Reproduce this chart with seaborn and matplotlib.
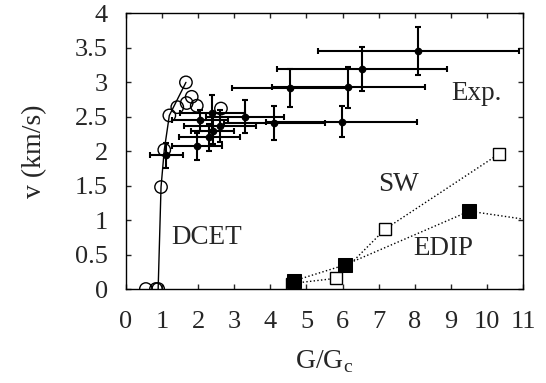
import matplotlib
matplotlib.use("Agg")
import matplotlib.pyplot as plt
import pandas as pd
import seaborn as sns

# DCET (open circles); the first points are joined by a solid line
dcet_x = [0.55, 0.83, 0.89, 0.97, 1.06, 1.20, 1.66, 1.42, 1.68, 1.82, 1.96, 2.63]
dcet_y = [0.0, 0.0, 0.0, 1.48, 2.02, 2.52, 3.00, 2.64, 2.70, 2.79, 2.66, 2.62]
dcet_curve_x = [0.89, 0.97, 1.06, 1.20, 1.66]
dcet_curve_y = [0.0, 1.48, 2.02, 2.52, 3.00]

# experiment with error bars
exp_x = [1.12, 1.96, 2.31, 2.05, 2.39, 2.60, 2.40, 3.30, 4.11, 5.97, 4.55, 6.16, 6.53, 8.10]
exp_y = [1.94, 2.07, 2.20, 2.45, 2.56, 2.37, 2.30, 2.50, 2.41, 2.43, 2.92, 2.93, 3.20, 3.46]
exp_xerr = [0.46, 0.69, 0.85, 0.78, 0.90, 1.00, 0.60, 1.09, 1.40, 2.08, 1.62, 2.11, 2.35, 2.79]
exp_yerr = [0.18, 0.19, 0.19, 0.15, 0.25, 0.23, 0.20, 0.24, 0.24, 0.23, 0.28, 0.30, 0.32, 0.35]

# Stillinger-Weber and EDIP simulations
sw_x = [4.59, 5.82, 7.18, 10.33]
sw_y = [0.08, 0.155, 0.87, 1.96]
edip_x = [4.66, 6.07, 9.51, 12.5]
edip_y = [0.12, 0.35, 1.13, 0.90]

x_ticks = list(range(0, 12))
y_ticks = [0, 0.5, 1, 1.5, 2, 2.5, 3, 3.5, 4]
y_tick_labels = ["0", "0.5", "1", "1.5", "2", "2.5", "3", "3.5", "4"]

sns.set_theme(style="ticks")
plt.rcParams["font.family"] = ["Liberation Serif", "DejaVu Serif"]
plt.rcParams["mathtext.fontset"] = "custom"
plt.rcParams["mathtext.rm"] = "Liberation Serif"
plt.rcParams["xtick.direction"] = "in"
plt.rcParams["ytick.direction"] = "in"

fig = plt.figure(figsize=(5.46, 3.83), dpi=100)
ax = fig.add_axes([0.2308, 0.2454, 0.7272, 0.7194])

# DCET
sns.lineplot(x=dcet_curve_x, y=dcet_curve_y, ax=ax, color="black", lw=1.0, sort=False)
sns.scatterplot(x=dcet_x, y=dcet_y, ax=ax, marker="o", s=80, facecolor="none",
                edgecolor="black", linewidth=1.0, zorder=3)

# Exp.
ax.errorbar(exp_x, exp_y, xerr=exp_xerr, yerr=exp_yerr, fmt="o", color="black",
            ms=4.5, elinewidth=1.5, capsize=2, capthick=1.5, zorder=4)

# SW and EDIP
sw = pd.DataFrame({"x": sw_x, "y": sw_y})
edip = pd.DataFrame({"x": edip_x, "y": edip_y})
sns.lineplot(data=sw, x="x", y="y", ax=ax, color="black", lw=1.0, ls=":", sort=False,
             marker="s", markersize=8.4, markerfacecolor="white", markeredgecolor="black",
             markeredgewidth=1.0)
sns.lineplot(data=edip, x="x", y="y", ax=ax, color="black", lw=1.0, ls=":", sort=False,
             marker="s", markersize=9.6, markerfacecolor="black", markeredgecolor="black")

ax.text(9.72, 2.84, "Exp.", fontsize=19.5, ha="center", va="center")
ax.text(7.54, 1.51, "SW", fontsize=19.5, ha="center", va="center")
ax.text(8.79, 0.59, "EDIP", fontsize=19.5, ha="center", va="center")
ax.text(2.24, 0.75, "DCET", fontsize=19.5, ha="center", va="center")

ax.set_xlim(0, 11)
ax.set_ylim(0, 4)
ax.set_xticks(x_ticks)
ax.set_yticks(y_ticks)
ax.set_yticklabels(y_tick_labels)
ax.tick_params(top=True, right=True, length=3.6, width=1.0, labelsize=19)
ax.tick_params(axis="x", pad=16)
ax.tick_params(axis="y", pad=13)
for spine in ax.spines.values():
    spine.set_visible(True)
    spine.set_linewidth(1.0)
    spine.set_color("black")

ax.set_xlabel(r"G/G$_\mathrm{c}$", fontsize=20, labelpad=11)
ax.set_ylabel("v (km/s)", fontsize=20, labelpad=20)

fig.savefig("out.png", dpi=100)
